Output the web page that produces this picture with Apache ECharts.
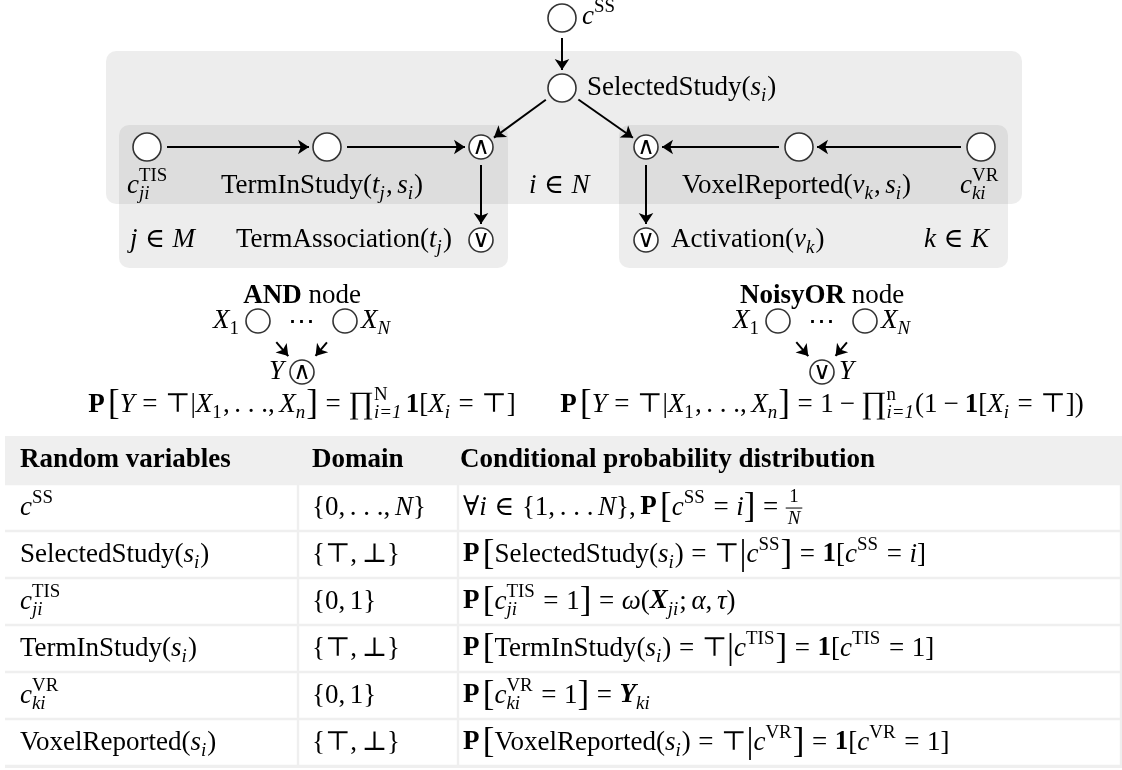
<!DOCTYPE html>
<html lang="en">
<head>
<meta charset="UTF-8">
<title>Graphical model</title>
<script src="https://cdn.jsdelivr.net/npm/echarts@6/dist/echarts.min.js"></script>
<style>
    html, body { margin: 0; padding: 0; background: #fff; }
    #chart { width: 1122px; height: 770px; }
</style>
</head>
<body>
<div id="chart"></div>
<script>
// ---- data: nodes, edges, table content ----
var nodeNames = ['cSS', 'SS', 'cTIS', 'TIS', 'andL', 'orL', 'andR', 'VR', 'cVR', 'orR', 'ax1', 'axN', 'ay', 'ox1', 'oxN', 'oy'];
var nodeGate  = ['', '', '', '', '∧', '∨', '∧', '', '', '∨', '', '', '∧', '', '', '∨'];
var nodeMini  = [0, 0, 0, 0, 0, 0, 0, 0, 0, 0, 1, 1, 1, 1, 1, 1];
var edgeList = [['cSS', 'SS'], ['SS', 'andL'], ['SS', 'andR'], ['cTIS', 'TIS'], ['TIS', 'andL'], ['andL', 'orL'],
                ['cVR', 'VR'], ['VR', 'andR'], ['andR', 'orR'],
                ['ax1', 'ay'], ['axN', 'ay'], ['ox1', 'oy'], ['oxN', 'oy']];
var headerCells = ['Random variables', 'Domain', 'Conditional probability distribution'];

// little math token helpers
function R(t) { return {t: t, f: ''}; }
function I(t) { return {t: t, f: 'i'}; }
function B(t) { return {t: t, f: 'b'}; }
function BI(t) { return {t: t, f: 'bi'}; }
function G(t, k) { return {t: t, f: '', k: k || 1.3}; }      // bigger delimiter
function S(e) { return {sp: e}; }
function U(sub, sup, fs, fp) { return {sub: sub, sup: sup, fs: fs == null ? 'i' : fs, fp: fp == null ? '' : fp}; }
function FR(n, d) { return {num: n, den: d}; }
var EQ = [S(.28), R('='), S(.28)], IN = [S(.28), R('∈'), S(.28)], MI = [S(.22), R('−'), S(.22)], CM = [R(','), S(.17)];

var rowVars = [
    [I('c'), U(null, 'SS')],
    [R('SelectedStudy('), I('s'), U('i'), R(')')],
    [I('c'), U('ji', 'TIS')],
    [R('TermInStudy('), I('s'), U('i'), R(')')],
    [I('c'), U('ki', 'VR')],
    [R('VoxelReported('), I('s'), U('i'), R(')')]
];
var rowDomains = [
    [R('{0'), CM, R('. . .'), CM, I('N'), R('}')],
    [R('{⊤'), CM, R('⊥}')],
    [R('{0'), CM, R('1}')],
    [R('{⊤'), CM, R('⊥}')],
    [R('{0'), CM, R('1}')],
    [R('{⊤'), CM, R('⊥}')]
];
var rowCpds = [
    [R('∀'), I('i'), IN, R('{1'), CM, R('. . .'), S(.17), I('N'), R('}'), CM, B('P'), S(.12), G('['), I('c'), U(null, 'SS'), EQ, I('i'), G(']'), EQ, FR('1', 'N')],
    [B('P'), S(.12), G('['), R('SelectedStudy('), I('s'), U('i'), R(')'), EQ, R('⊤'), G('|'), I('c'), U(null, 'SS'), G(']'), EQ, B('1'), R('['), I('c'), U(null, 'SS'), EQ, I('i'), R(']')],
    [B('P'), S(.12), G('['), I('c'), U('ji', 'TIS'), EQ, R('1'), G(']'), EQ, I('ω'), R('('), BI('X'), U('ji'), R(';'), S(.17), I('α'), CM, I('τ'), R(')')],
    [B('P'), S(.12), G('['), R('TermInStudy('), I('s'), U('i'), R(')'), EQ, R('⊤'), G('|'), I('c'), U(null, 'TIS'), G(']'), EQ, B('1'), R('['), I('c'), U(null, 'TIS'), EQ, R('1]')],
    [B('P'), S(.12), G('['), I('c'), U('ki', 'VR'), EQ, R('1'), G(']'), EQ, BI('Y'), U('ki')],
    [B('P'), S(.12), G('['), R('VoxelReported('), I('s'), U('i'), R(')'), EQ, R('⊤'), G('|'), I('c'), U(null, 'VR'), G(']'), EQ, B('1'), R('['), I('c'), U(null, 'VR'), EQ, R('1]')]
];

// ---- layout ----
var W = 1122, H = 770, F = 27;
var pos = {
    cSS: [562, 18], SS: [562, 88],
    cTIS: [147, 147], TIS: [327, 147], andL: [481, 147], orL: [481, 240],
    andR: [646, 147], VR: [799, 147], cVR: [981, 147], orR: [646, 240],
    ax1: [258, 321], axN: [345, 321], ay: [302, 372],
    ox1: [778, 321], oxN: [865, 321], oy: [822, 372]
};
var colX = [5, 298, 458, 1121];
var tableTop = 436, headH = 48, rowH = 47;

var FF = '"Liberation Serif","DejaVu Serif",serif';
var ctx = document.createElement('canvas').getContext('2d');
function fontOf(f, size) {
    return (f.indexOf('i') >= 0 ? 'italic ' : '') + (f.indexOf('b') >= 0 ? 'bold ' : '') + size + 'px ' + FF;
}
function measure(t, f, size) { ctx.font = fontOf(f, size); return ctx.measureText(t).width; }

function txt(x, y, t, font) {
    return {type: 'text', x: x, y: y, z: 5, silent: true,
        style: {text: t, font: font, fill: '#000', verticalAlign: 'middle', textVerticalAlign: 'middle'}};
}

// lays out a token list, returns graphic elements
function mathText(x, y, toks, align, size) {
    size = size || F;
    var items = [], cx = 0, sm = 0.7 * size;
    [toks].flat(Infinity).forEach(function (tk) {
        if (tk.sp != null) { cx += tk.sp * size; return; }
        if (tk.sub != null || tk.sup != null) {
            var w = 0;
            if (tk.sup) { items.push({t: tk.sup, font: fontOf(tk.fp, sm), x: cx, dy: -0.36 * size}); w = Math.max(w, measure(tk.sup, tk.fp, sm)); }
            if (tk.sub) { items.push({t: tk.sub, font: fontOf(tk.fs, sm), x: cx, dy: 0.3 * size}); w = Math.max(w, measure(tk.sub, tk.fs, sm)); }
            cx += w + 0.04 * size;
            return;
        }
        if (tk.num != null) {
            var wn = Math.max(measure(tk.num, '', sm), measure(tk.den, 'i', sm)) + 4;
            items.push({t: tk.num, font: fontOf('', sm), x: cx + (wn - measure(tk.num, '', sm)) / 2, dy: -0.4 * size});
            items.push({t: tk.den, font: fontOf('i', sm), x: cx + (wn - measure(tk.den, 'i', sm)) / 2, dy: 0.42 * size});
            items.push({line: true, x: cx, w: wn, dy: 0.02 * size});
            cx += wn;
            return;
        }
        var s = size * (tk.k || 1);
        items.push({t: tk.t, font: fontOf(tk.f, s), x: cx, dy: 0});
        cx += measure(tk.t, tk.f, s);
    });
    var off = align === 'center' ? -cx / 2 : (align === 'right' ? -cx : 0);
    return items.map(function (it) {
        if (it.line) {
            return {type: 'line', z: 5, silent: true, shape: {x1: x + off + it.x, y1: y + it.dy, x2: x + off + it.x + it.w, y2: y + it.dy},
                style: {stroke: '#000', lineWidth: 1}};
        }
        return txt(x + off + it.x, y + it.dy, it.t, it.font);
    });
}

// ---- graphic: plates, labels, table ----
var graphics = [];
function add(els) { graphics = graphics.concat(els); }
function plate(x0, y0, x1, y1) {
    graphics.push({type: 'rect', z: 0, silent: true, shape: {x: x0, y: y0, width: x1 - x0, height: y1 - y0, r: 10},
        style: {fill: 'rgba(0,0,0,0.07)'}});
}
plate(106, 51, 1022, 204);   // i in N
plate(119, 125, 508, 268);   // j in M
plate(619, 125, 1008, 268);  // k in K

add(mathText(582, 17, [I('c'), U(null, 'SS')]));
add(mathText(587, 88, [R('SelectedStudy('), I('s'), U('i'), R(')')]));
add(mathText(127, 186, [I('c'), U('ji', 'TIS')]));
add(mathText(221, 186, [R('TermInStudy('), I('t'), U('j'), CM, I('s'), U('i'), R(')')]));
add(mathText(529, 186, [I('i'), IN, I('N')]));
add(mathText(130, 240, [I('j'), IN, I('M')]));
add(mathText(236, 240, [R('TermAssociation('), I('t'), U('j'), R(')')]));
add(mathText(682, 186, [R('VoxelReported('), I('v'), U('k'), CM, I('s'), U('i'), R(')')]));
add(mathText(960, 186, [I('c'), U('ki', 'VR')]));
add(mathText(671, 240, [R('Activation('), I('v'), U('k'), R(')')]));
add(mathText(924, 240, [I('k'), IN, I('K')]));

// AND / NoisyOR examples
add(mathText(pos.ay[0], 296, [B('AND'), R(' node')], 'center'));
add(mathText(pos.ax1[0] - 18, 321, [I('X'), U('1', null, '')], 'right'));
add(mathText(pos.axN[0] + 16, 321, [I('X'), U('N')]));
add(mathText((pos.ax1[0] + pos.axN[0]) / 2, 323, [R('⋯')], 'center'));
add(mathText(pos.ay[0] - 18, 372, [I('Y')], 'right'));
add(mathText(pos.ay[0], 405, [B('P'), S(.12), G('['), I('Y'), EQ, R('⊤|'), I('X'), U('1', null, ''), CM, R('. . .'), CM, I('X'), U('n'), G(']'), EQ,
    G('∏', 1.15), U('i=1', 'N'), S(.12), B('1'), R('['), I('X'), U('i'), EQ, R('⊤]')], 'center'));

add(mathText(pos.oy[0], 296, [B('NoisyOR'), R(' node')], 'center'));
add(mathText(pos.ox1[0] - 18, 321, [I('X'), U('1', null, '')], 'right'));
add(mathText(pos.oxN[0] + 16, 321, [I('X'), U('N')]));
add(mathText((pos.ox1[0] + pos.oxN[0]) / 2, 323, [R('⋯')], 'center'));
add(mathText(pos.oy[0] + 17, 372, [I('Y')]));
add(mathText(pos.oy[0], 405, [B('P'), S(.12), G('['), I('Y'), EQ, R('⊤|'), I('X'), U('1', null, ''), CM, R('. . .'), CM, I('X'), U('n'), G(']'), EQ,
    R('1'), MI, G('∏', 1.15), U('i=1', 'n'), R('(1'), MI, B('1'), R('['), I('X'), U('i'), EQ, R('⊤])')], 'center'));

// table
var nRows = rowVars.length;
var tableBottom = tableTop + headH + nRows * rowH;
graphics.push({type: 'rect', z: 0, silent: true, shape: {x: colX[0], y: tableTop, width: W - colX[0], height: tableBottom - tableTop + 2},
    style: {fill: '#efefef'}});
for (var r = 0; r < nRows; r++) {
    var y0 = tableTop + headH + r * rowH;
    for (var c = 0; c < 3; c++) {
        var xa = colX[c] + (c === 0 ? 0 : 1.2), xb = colX[c + 1] - 1.2;
        graphics.push({type: 'rect', z: 1, silent: true, shape: {x: xa, y: y0 + 1.2, width: xb - xa, height: rowH - 2.4},
            style: {fill: '#fff'}});
    }
    var yc = y0 + rowH / 2;
    add(mathText(20, yc, rowVars[r]));
    add(mathText(312, yc, rowDomains[r]));
    add(mathText(463, yc, rowCpds[r]));
}
var headX = [20, 312, 460];
headerCells.forEach(function (h, i) {
    graphics.push(txt(headX[i], tableTop + headH / 2, h, fontOf('b', F)));
});

// ---- series data built from nodes / edges ----
function radius(n) {
    var i = nodeNames.indexOf(n);
    return (nodeGate[i] || nodeMini[i]) ? 12 : 14;
}
function edgeCoords(a, b) {
    var p = pos[a], q = pos[b], dx = q[0] - p[0], dy = q[1] - p[1], L = Math.sqrt(dx * dx + dy * dy);
    var mini = nodeMini[nodeNames.indexOf(a)];
    var g0 = radius(a) + (mini ? 16 : 6), g1 = radius(b) + (mini ? 9 : 4);
    return [[p[0] + dx / L * g0, p[1] + dy / L * g0], [q[0] - dx / L * g1, q[1] - dy / L * g1]];
}

var nodeData = nodeNames.map(function (n, i) {
    return {
        value: pos[n],
        symbolSize: radius(n) * 2,
        label: {show: !!nodeGate[i], formatter: nodeGate[i], position: 'inside', color: '#000',
            fontFamily: 'DejaVu Sans', fontSize: 24, offset: [0, 1]}
    };
});
var linkData = edgeList.map(function (e) { return {coords: edgeCoords(e[0], e[1])}; });

var chart = echarts.init(document.getElementById('chart'));
chart.setOption({
    animation: false,
    grid: {left: 0, right: 0, top: 0, bottom: 0},
    xAxis: {type: 'value', min: 0, max: W, show: false},
    yAxis: {type: 'value', min: 0, max: H, inverse: true, show: false},
    graphic: {elements: graphics},
    series: [{
        type: 'lines',
        coordinateSystem: 'cartesian2d',
        data: linkData,
        symbol: ['none', 'arrow'],
        symbolSize: 11,
        lineStyle: {color: '#000', width: 2, opacity: 1},
        silent: true,
        z: 3
    }, {
        type: 'scatter',
        data: nodeData,
        symbol: 'circle',
        itemStyle: {color: '#fff', borderColor: '#333', borderWidth: 1.6, opacity: 1},
        emphasis: {disabled: true},
        silent: true,
        z: 4
    }]
});
</script>
</body>
</html>
